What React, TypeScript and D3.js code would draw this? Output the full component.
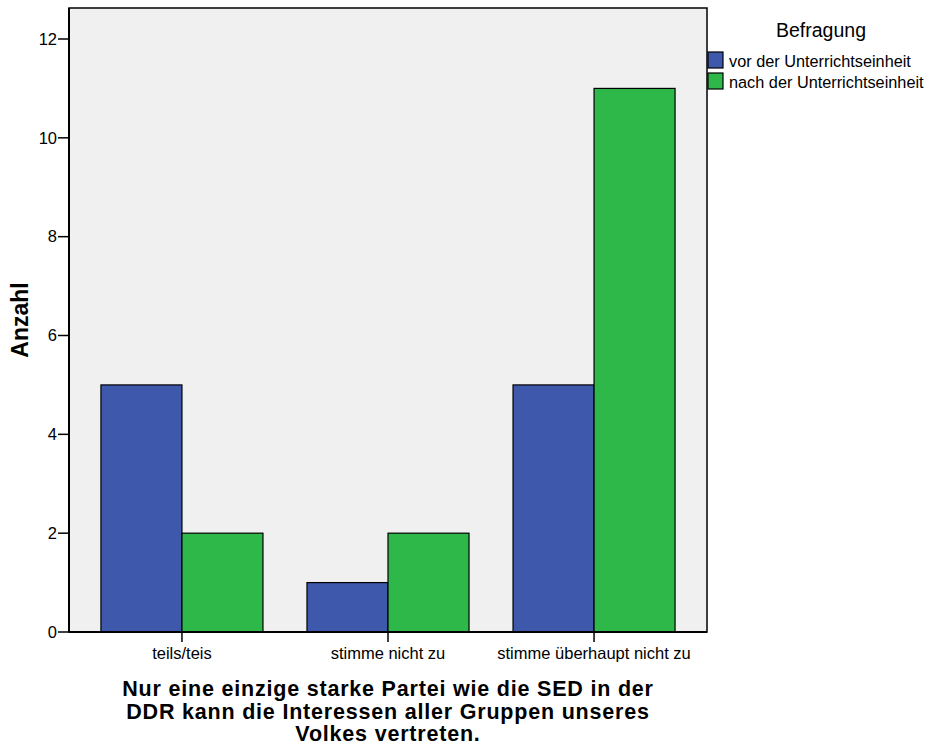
import React from "react";
import * as d3 from "d3";

const categories = ["teils/teis", "stimme nicht zu", "stimme überhaupt nicht zu"];
const seriesNames = ["vor der Unterrichtseinheit", "nach der Unterrichtseinheit"];
const vorValues = [5, 1, 5];
const nachValues = [2, 2, 11];
const yTicks = [0, 2, 4, 6, 8, 10, 12];
const titleLines = [
  "Nur eine einzige starke Partei wie die SED in der",
  "DDR kann die Interessen aller Gruppen unseres",
  "Volkes vertreten.",
];

const colors = ["#3e58ac", "#2eb84a"];
const font = "'Liberation Sans', Arial, sans-serif";

const W = 937;
const H = 751;
const plot = { left: 69, right: 707, top: 8, bottom: 632 };

const App: React.FC = () => {
  const x = d3
    .scaleBand<string>()
    .domain(categories)
    .range([plot.left, plot.right])
    .paddingInner(0.2136)
    .paddingOuter(0.155);

  const xSub = d3
    .scaleBand<string>()
    .domain(seriesNames)
    .range([0, x.bandwidth()]);

  const y = d3
    .scaleLinear()
    .domain([0, 12])
    .range([plot.bottom, 39]);

  const series = [vorValues, nachValues];

  return (
    <svg
      width={W}
      height={H}
      style={{ position: "absolute", left: 0, top: 0, background: "#fff" }}
      fontFamily={font}
    >
      {/* plot background */}
      <rect
        x={plot.left}
        y={plot.top}
        width={plot.right - plot.left}
        height={plot.bottom - plot.top}
        fill="#f0f0f0"
        stroke="#000"
        strokeWidth={1.5}
      />

      {/* bars */}
      {categories.map((c, i) =>
        series.map((vals, s) => (
          <rect
            key={c + s}
            x={(x(c) ?? 0) + (xSub(seriesNames[s]) ?? 0)}
            y={y(vals[i])}
            width={xSub.bandwidth()}
            height={y(0) - y(vals[i])}
            fill={colors[s]}
            stroke="#000"
            strokeWidth={1.2}
          />
        ))
      )}

      {/* axes lines */}
      <line x1={plot.left} x2={plot.right} y1={plot.bottom} y2={plot.bottom} stroke="#000" strokeWidth={2} />
      <line x1={plot.left} x2={plot.left} y1={plot.top} y2={plot.bottom} stroke="#000" strokeWidth={2} />

      {/* y ticks */}
      {yTicks.map((t) => (
        <g key={t}>
          <line x1={plot.left - 11} x2={plot.left} y1={y(t)} y2={y(t)} stroke="#000" strokeWidth={1.5} />
          <text
            x={plot.left - 12}
            y={y(t)}
            dy="0.35em"
            textAnchor="end"
            fontSize={16.5}
            fill="#000"
          >
            {t}
          </text>
        </g>
      ))}

      {/* x ticks */}
      {categories.map((c) => {
        const cx = (x(c) ?? 0) + x.bandwidth() / 2;
        return (
          <g key={c}>
            <line x1={cx} x2={cx} y1={plot.bottom} y2={plot.bottom + 10} stroke="#000" strokeWidth={1.5} />
            <text x={cx} y={659} textAnchor="middle" fontSize={16.5} fill="#000">
              {c}
            </text>
          </g>
        );
      })}

      {/* y label */}
      <text
        transform={`translate(28,320) rotate(-90)`}
        textAnchor="middle"
        fontSize={23}
        fontWeight="bold"
        fill="#000"
      >
        Anzahl
      </text>

      {/* title */}
      {titleLines.map((l, i) => (
        <text
          key={i}
          x={388}
          y={696 + i * 22.5}
          textAnchor="middle"
          fontSize={21.5}
          letterSpacing={0.8}
          fontWeight="bold"
          fill="#000"
        >
          {l}
        </text>
      ))}

      {/* legend */}
      <text x={821} y={37} textAnchor="middle" fontSize={19.5} fill="#000">
        Befragung
      </text>
      {seriesNames.map((n, i) => (
        <g key={n}>
          <rect
            x={708}
            y={52 + i * 21}
            width={15}
            height={16}
            fill={colors[i]}
            stroke="#000"
            strokeWidth={1.2}
          />
          <text x={729} y={67 + i * 21} fontSize={16.3} fill="#000">
            {n}
          </text>
        </g>
      ))}
    </svg>
  );
};

export default App;
